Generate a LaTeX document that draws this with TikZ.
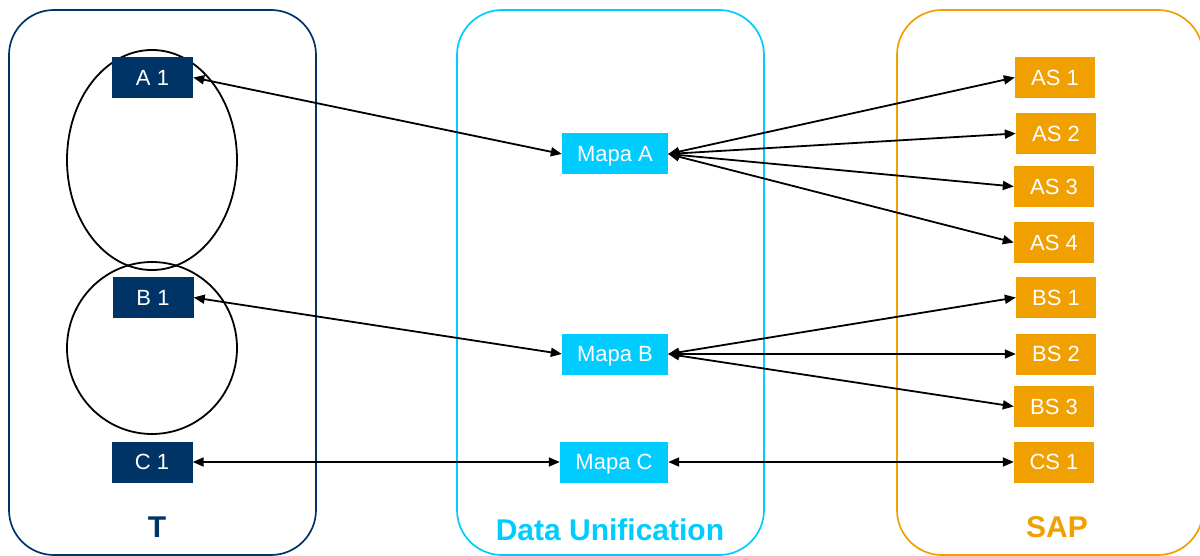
\documentclass[tikz,border=0pt]{standalone}
\usepackage{fontspec}
\setmainfont{Liberation Sans}
\usetikzlibrary{arrows.meta,shapes.geometric}
\definecolor{navy}{RGB}{0,51,102}
\definecolor{cyanb}{RGB}{0,204,255}
\definecolor{orangeb}{RGB}{240,160,0}
\begin{document}
\begin{tikzpicture}[x=1pt,y=-1pt,
  box/.style={rectangle, inner sep=0pt, minimum width=81pt, minimum height=41pt, text=white, font=\fontsize{22}{22}\selectfont, text height=15.8pt, text depth=0pt},
  tbox/.style={box, fill=navy},
  mbox/.style={box, fill=cyanb, minimum width=106pt},
  sbox/.style={box, fill=orangeb, minimum width=80pt},
  cont/.style={rounded corners=45pt, line width=1.7pt},
  grp/.style={ellipse, draw=black, line width=1.8pt, inner sep=0pt},
  link/.style={{Triangle[length=11pt,width=9pt]}-{Triangle[length=11pt,width=9pt]}, line width=1.8pt},
  lbl/.style={font=\bfseries\fontsize{30}{30}\selectfont}]
\useasboundingbox (0,0) rectangle (1200,556);
\fill[white] (0,0) rectangle (1200,556);
% containers
\draw[cont, draw=navy] (9,10) rectangle (316,555);
\draw[cont, draw=cyanb] (457,10) rectangle (764,555);
\draw[cont, draw=orangeb] (897,10) rectangle (1203,555);
% groups
\node[grp, minimum width=170pt, minimum height=220pt] (gA) at (152,160) {};
\node[grp, minimum width=170pt, minimum height=172pt] (gB) at (152,348) {};
% T boxes
\node[tbox] (A1) at (152.5,77.5) {A 1};
\node[tbox] (B1) at (153,297.5) {B 1};
\node[tbox] (C1) at (152,462) {C 1};
% Mapa boxes
\node[mbox] (MA) at (615,154) {Mapa A};
\node[mbox] (MB) at (615,354) {Mapa B};
\node[mbox, minimum width=108pt] (MC) at (614,462) {Mapa C};
% SAP boxes
\node[sbox] (AS1) at (1055,77.5) {AS 1};
\node[sbox] (AS2) at (1056,133.5) {AS 2};
\node[sbox] (AS3) at (1054,186.5) {AS 3};
\node[sbox] (AS4) at (1054,242.5) {AS 4};
\node[sbox] (BS1) at (1056,297.5) {BS 1};
\node[sbox] (BS2) at (1056,354) {BS 2};
\node[sbox] (BS3) at (1054,406.5) {BS 3};
\node[sbox] (CS1) at (1054,462) {CS 1};
% labels
\node[lbl, text=navy] (lT) at (157,527) {T};
\node[lbl, text=cyanb] (lDU) at (610,530) {Data Unification};
\node[lbl, text=orangeb] (lSAP) at (1057,527) {SAP};
% links
\draw[link] (A1.east) -- (MA.west);
\draw[link] (B1.east) -- (MB.west);
\draw[link] (C1.east) -- (MC.west);
\draw[link] (MA.east) -- (AS1.west);
\draw[link] (MA.east) -- (AS2.west);
\draw[link] (MA.east) -- (AS3.west);
\draw[link] (MA.east) -- (AS4.west);
\draw[link] (MB.east) -- (BS1.west);
\draw[link] (MB.east) -- (BS2.west);
\draw[link] (MB.east) -- (BS3.west);
\draw[link] (MC.east) -- (CS1.west);
\end{tikzpicture}
\end{document}
